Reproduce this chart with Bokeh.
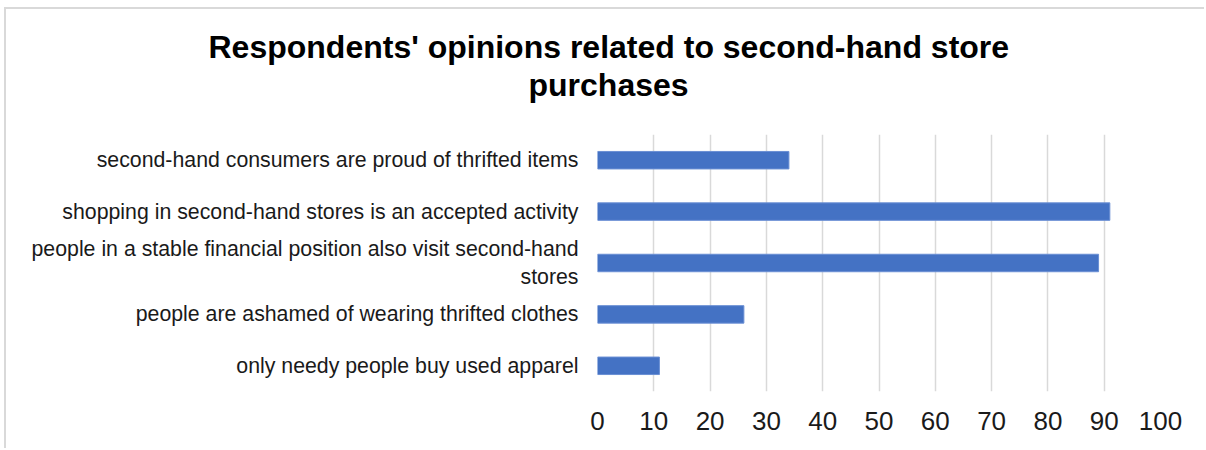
from bokeh.plotting import figure
from bokeh.models import Range1d, FixedTicker, Title, ColumnDataSource
from bokeh.embed import file_html
from bokeh.resources import INLINE

title_lines = ["Respondents' opinions related to second-hand store", "purchases"]
categories = [
    "only needy people buy used apparel",
    "people are ashamed of wearing thrifted clothes",
    "people in a stable financial position also visit second-hand\nstores",
    "shopping in second-hand stores is an accepted activity",
    "second-hand consumers are proud of thrifted items",
]
values = [11, 26, 89, 91, 34]
x_ticks = [0, 10, 20, 30, 40, 50, 60, 70, 80, 90, 100]

ypos = list(range(len(categories)))
src = ColumnDataSource(dict(y=ypos, v=values))

FONT = "Liberation Sans"
TXT = "#1a1a1a"

# canvas offset inside the page (gray chart border at top/left)
OX, OY = 6, 9

p = figure(width=1206 - OX, height=450 - OY, output_backend="svg", toolbar_location=None,
           x_range=Range1d(0, 100), y_range=Range1d(-0.5, 4.5),
           min_border_left=597 - OX, min_border_right=46, min_border_top=134 - OY,
           min_border_bottom=59, title=None)
p.styles = {"margin-left": "4px", "margin-top": "7px",
            "border-top": "2px solid #d9d9d9", "border-left": "2px solid #d9d9d9"}
p.outline_line_color = None
p.background_fill_color = "white"
p.border_fill_color = "white"

p.hbar(y="y", right="v", left=0, height=0.34, source=src,
       fill_color="#4472C4", line_color="#6a8fd4", line_width=1)

p.xaxis.ticker = FixedTicker(ticks=x_ticks)
p.xaxis.axis_line_color = None
p.xaxis.major_tick_line_color = None
p.xaxis.minor_tick_line_color = None
p.xaxis.major_label_text_font = FONT
p.xaxis.major_label_text_font_size = "26px"
p.xaxis.major_label_text_color = TXT
p.xaxis.major_label_standoff = 14

p.yaxis.ticker = FixedTicker(ticks=ypos)
p.yaxis.major_label_overrides = {i: c for i, c in enumerate(categories)}
p.yaxis.axis_line_color = None
p.yaxis.major_tick_line_color = None
p.yaxis.minor_tick_line_color = None
p.yaxis.major_label_text_font = FONT
p.yaxis.major_label_text_font_size = "21.3px"
p.yaxis.major_label_text_color = TXT
p.yaxis.major_label_standoff = 13

p.xgrid.grid_line_color = "#d9d9d9"
p.xgrid.grid_line_width = 1.5
p.ygrid.grid_line_color = None

# blank spacer between the frame and the title block (white on white)
p.add_layout(Title(text=".", text_font=FONT, text_font_size="27px", text_color="white",
                   standoff=11), "above")

# two title lines, centred over the whole chart (x ~ 608) rather than the frame
frame_left = 597
widths = [800, 160]
standoffs = [0, 0]
for line, w, so in reversed(list(zip(title_lines, widths, standoffs))):
    p.add_layout(Title(text=line, align="left", offset=(608 - w / 2) - frame_left,
                       text_font=FONT, text_font_style="bold", text_font_size="32px",
                       text_color="black", standoff=so), "above")

open("out.html", "w").write(file_html(p, INLINE))
